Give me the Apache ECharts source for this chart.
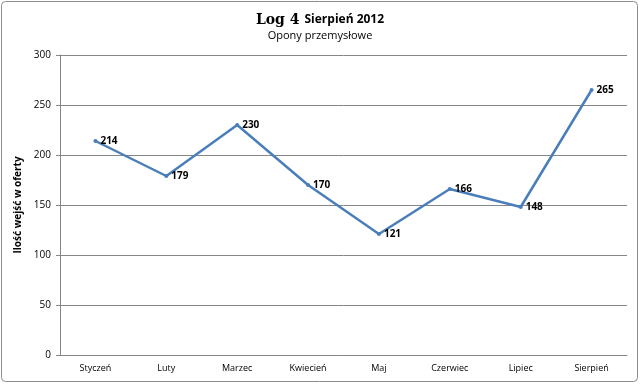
<!DOCTYPE html>
<html><head><meta charset="utf-8">
<script src="https://cdn.jsdelivr.net/npm/echarts@6/dist/echarts.min.js"></script>
<style>html,body{margin:0;padding:0;background:#fff}#c{width:640px;height:384px}</style>
</head><body><div id="c"></div>
<script>
const categories = ['Styczeń','Luty','Marzec','Kwiecień','Maj','Czerwiec','Lipiec','Sierpień'];
const values = [214,179,230,170,121,166,148,265];
const yTicks = [0,50,100,150,200,250,300];
const chart = echarts.init(document.getElementById('c'));
chart.setOption({
  animation:false,
  backgroundColor:'#fff',
  graphic:[{type:'rect',shape:{x:1.5,y:1.5,width:636,height:380,r:4},style:{fill:'none',stroke:'#8c8c8c',lineWidth:1}}],
  title:{
    text:'{a|Log 4} {b|Sierpień 2012}',
    subtext:'Opony przemysłowe',
    left:'center', top:6, itemGap:1,
    textStyle:{rich:{
      a:{fontFamily:'DejaVu Serif',fontWeight:'bold',fontSize:14,color:'#000'},
      b:{fontFamily:'Open Sans',fontWeight:'bold',fontSize:12,color:'#000'}}},
    subtextStyle:{fontFamily:'Open Sans',fontSize:11,color:'#000'}
  },
  grid:{left:60,right:13,top:55,bottom:29,containLabel:false},
  xAxis:{type:'category',data:categories,boundaryGap:true,
    axisLine:{lineStyle:{color:'#868686'}},axisTick:{show:false},
    axisLabel:{fontFamily:'Open Sans',fontSize:9,color:'#000',margin:9}},
  yAxis:{type:'value',min:0,max:300,interval:50,
    name:'Ilość wejść w oferty',nameLocation:'middle',nameGap:25,
    nameTextStyle:{fontFamily:'Open Sans',fontWeight:'bold',fontSize:10,color:'#000'},
    axisLine:{show:true,lineStyle:{color:'#868686'}},
    axisTick:{show:true,length:4,lineStyle:{color:'#868686'}},
    axisLabel:{fontFamily:'Open Sans',fontSize:10,color:'#000',margin:9,
      formatter:v=>yTicks.includes(v)?String(v):''},
    splitLine:{lineStyle:{color:'#868686',width:1}}},
  series:[{type:'line',data:values,symbol:'circle',symbolSize:4,
    lineStyle:{color:'#4a7ebb',width:2.5},itemStyle:{color:'#4a7ebb'},
    label:{show:true,position:'right',distance:3,fontFamily:'Open Sans',fontWeight:'bold',fontSize:10,color:'#000'}}]
});
</script></body></html>
